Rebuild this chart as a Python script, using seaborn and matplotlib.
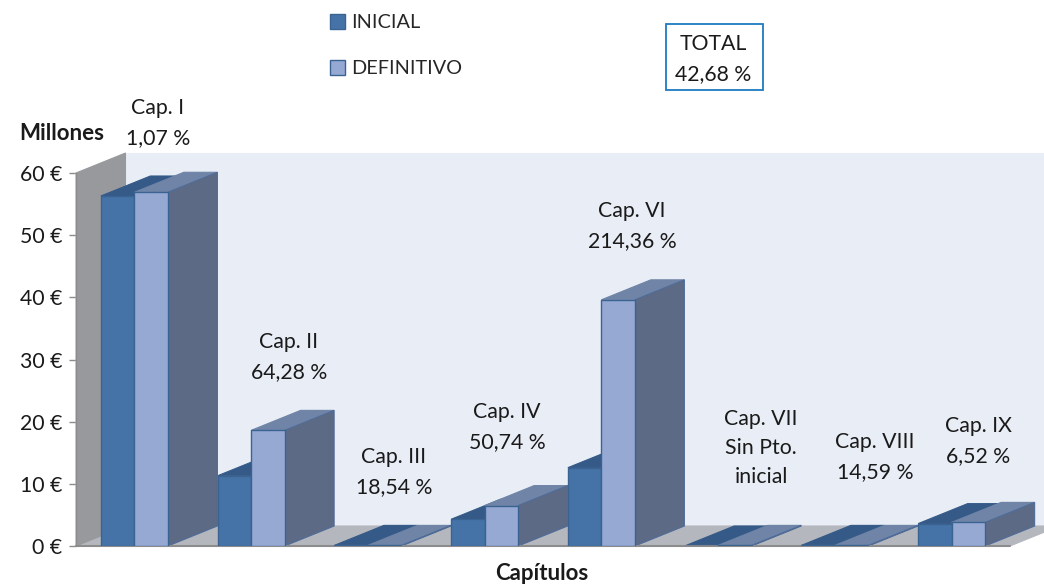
import matplotlib
matplotlib.use("Agg")
import matplotlib.pyplot as plt
from matplotlib.patches import Polygon, Rectangle
import pandas as pd
import seaborn as sns

## --- data (millions of euro)

capitulos = ['I', 'II', 'III', 'IV', 'VI', 'VII', 'VIII', 'IX']
inicial = [56.3, 11.3, 0.1, 4.3, 12.6, 0.0, 0.1, 3.6]
definitivo = [56.9, 18.6, 0.1, 6.5, 39.6, 0.1, 0.1, 3.8]
etiquetas = ['Cap. I\n1,07 %', 'Cap. II\n64,28 %', 'Cap. III\n18,54 %',
             'Cap. IV\n50,74 %', 'Cap. VI\n214,36 %',
             'Cap. VII\nSin Pto.\ninicial', 'Cap. VIII\n14,59 %',
             'Cap. IX\n6,52 %']
y_ticks = [0, 10, 20, 30, 40, 50, 60]
y_labels = ['0 €', '10 €', '20 €', '30 €', '40 €', '50 €', '60 €']

## --- layout in pixels of the 1044x584 picture

W, H = 1044, 584
etiqueta_px = [(158, 123), (289, 357), (394, 472), (507, 427), (632, 226),
               (761, 448), (875, 457), (978, 441)]
FS = 15.3

sns.set_theme(style="white")
plt.rcParams['font.family'] = ['Lato', 'DejaVu Sans']

fig = plt.figure(figsize=(W / 100, H / 100), dpi=100)
ax = fig.add_axes([76 / W, (H - 546) / H, 934 / W, 373 / H])
ax.patch.set_visible(False)

df = pd.DataFrame({
    'capitulo': capitulos * 2,
    'millones': inicial + definitivo,
    'serie': ['INICIAL'] * len(capitulos) + ['DEFINITIVO'] * len(capitulos),
})

sns.barplot(data=df, x='capitulo', y='millones', hue='serie',
            palette=['#4572A7', '#95A9D3'], saturation=1, width=0.574, gap=0,
            edgecolor='#3B6392', linewidth=1, zorder=3, ax=ax)

ax.set_xlim(-0.5, 7.5)
ax.set_ylim(0, 60)

## --- fake 3D: depth of the box, in data units

dx = 49.5 / (934 / 8)
dy = 20 / (373 / 60)


def poly(points, color, edge=None, z=2):
    ax.add_patch(Polygon(points, closed=True, facecolor=color,
                         edgecolor=edge if edge else color, linewidth=0.8,
                         zorder=z, clip_on=False))


x0, x1 = -0.5, 7.5
poly([(x0 + dx, dy), (x1 + dx, dy), (x1 + dx, 60 + dy), (x0 + dx, 60 + dy)],
     '#E9EDF6', z=0.5)
poly([(x0, 0), (x1, 0), (x1 + dx, dy), (x0 + dx, dy)], '#B4B7BD', z=1)
poly([(x0, 0), (x0 + dx, dy), (x0 + dx, 60 + dy), (x0, 60)], '#98999D', z=1)

tops = ['#355A88', '#6F84A6']
for cont, top in zip(ax.containers, tops):
    for bar in cont:
        a, b = bar.get_x(), bar.get_x() + bar.get_width()
        h = bar.get_height()
        poly([(a, h), (b, h), (b + dx, h + dy), (a + dx, h + dy)], top)

## --- only the second series shows its side

for bar in ax.containers[1]:
    b = bar.get_x() + bar.get_width()
    h = bar.get_height()
    poly([(b, 0), (b + dx, dy), (b + dx, h + dy), (b, h)], '#5C6A85',
         edge='#4F6C99')

## --- axes

for s in ax.spines.values():
    s.set_visible(False)
ax.axhline(0, color='#8C8C8C', lw=1.5, zorder=2.5, clip_on=False)
ax.axvline(-0.5, color='#8C8C8C', lw=1, zorder=2.5)
ax.set_xticks([])
ax.set_yticks(y_ticks, y_labels)
ax.tick_params(axis='y', left=True, length=5, width=1, color='#8C8C8C', pad=5,
               labelsize=FS, labelcolor='#1A1A1A')
ax.set_xlabel('')
ax.set_ylabel('')

## --- legend

sns.move_legend(ax, loc='upper left', title=None, frameon=False, ncol=1,
                bbox_to_anchor=(324 / W, 1 - 8 / H),
                bbox_transform=fig.transFigure, fontsize=14.3,
                handlelength=0.75, handleheight=0.75, handletextpad=0.3,
                labelspacing=1.46, borderpad=0.3, borderaxespad=0)


def texto(px, py, s, size=FS, **kw):
    fig.text(px / W, 1 - py / H, s, ha='center', va='center', fontsize=size,
             color='#1A1A1A', **kw)


for (px, py), s in zip(etiqueta_px, etiquetas):
    texto(px, py, s, linespacing=1.59, zorder=5)

texto(61.5, 133, 'Millones', size=16, fontweight='bold')
texto(541.5, 573, 'Capítulos', size=16, fontweight='bold')

## --- TOTAL box

fig.add_artist(Rectangle((665.5 / W, 1 - 90 / H), 97 / W, 66 / H, fill=False,
                         edgecolor='#1F7BC0', linewidth=1.3,
                         transform=fig.transFigure))
texto(713, 59, 'TOTAL\n42,68 %', linespacing=1.59)

fig.savefig('out.png', dpi=100)
